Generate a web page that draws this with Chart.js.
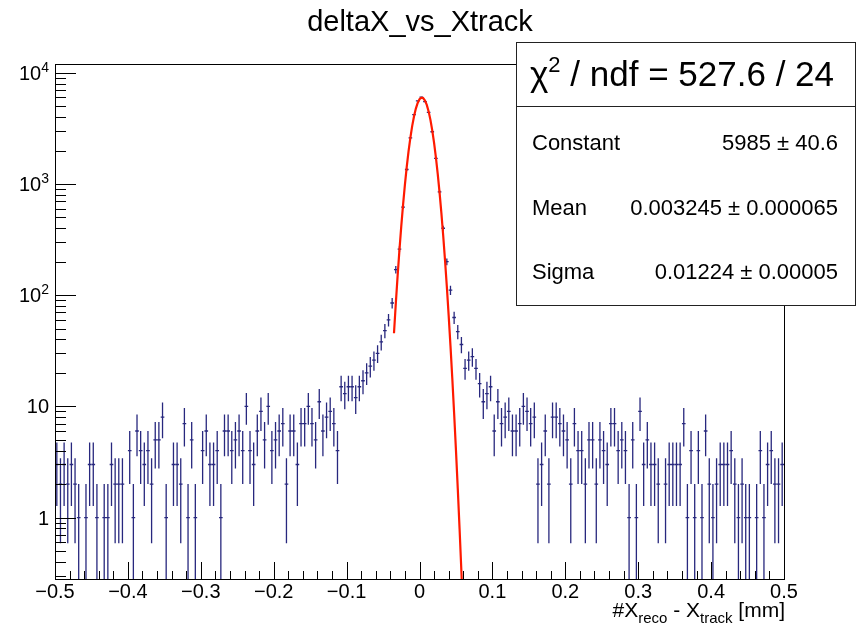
<!DOCTYPE html>
<html>
<head>
<meta charset="utf-8">
<script src="https://cdn.jsdelivr.net/npm/chart.js@4/dist/chart.umd.min.js"></script>
<style>
  html, body { margin: 0; padding: 0; background: #fff; }
  #wrap { width: 859px; height: 624px; }
</style>
</head>
<body>
<div id="wrap"><canvas id="c" width="859" height="624"></canvas></div>
<script>
// histogram binning: 200 bins from -0.5 to 0.5
const xMin = -0.5;
const xMax = 0.5;
const binWidth = 0.005;

// bin contents
const counts = [
    3, 2, 3, 2, 3, 2, 1, 0, 1, 3, 3, 1, 0, 1, 1, 3, 2, 2, 2, 0,
    4, 1, 6, 4, 3, 4, 2, 5, 5, 8, 1, 0, 3, 3, 2, 7, 1, 5, 1, 0,
    4, 6, 3, 3, 4, 1, 6, 6, 4, 5, 6, 4, 10, 4, 3, 6, 9, 5, 10, 4,
    5, 6, 7, 2, 6, 6, 3, 7, 7, 10, 7, 5, 11, 6, 8, 9, 7, 4, 15, 13,
    15, 15, 12, 15, 17, 20, 23, 26, 30, 38, 48, 60, 85, 170, 260, 620, 1350, 2600, 4200, 5600,
    6050, 5500, 4400, 2950, 1700, 850, 400, 200, 111, 63, 47, 36, 22, 26, 28, 22, 16, 11, 13, 15,
    6, 11, 7, 8, 9, 6, 6, 7, 10, 9, 7, 8, 2, 3, 6, 2, 8, 8, 7, 6,
    5, 2, 7, 4, 4, 2, 5, 5, 2, 5, 4, 3, 7, 7, 4, 5, 4, 1, 5, 1,
    9, 3, 5, 3, 3, 2, 0, 2, 3, 3, 3, 3, 7, 1, 4, 1, 4, 1, 6, 2,
    1, 2, 3, 3, 3, 4, 2, 1, 2, 1, 1, 0, 1, 4, 1, 3, 4, 2, 2, 3
];

// gaussian fit curve (red line)
const fitX = [-0.035, -0.0325, -0.03, -0.0275, -0.025, -0.0225, -0.02, -0.0175, -0.015, -0.0125,
    -0.01, -0.0075, -0.005, -0.0025, 0, 0.0025, 0.005, 0.0075, 0.01, 0.0125,
    0.015, 0.0175, 0.02, 0.0225, 0.025, 0.0275, 0.03, 0.0325, 0.035, 0.0375,
    0.04, 0.0425, 0.045, 0.0475, 0.05, 0.0525, 0.055, 0.0575, 0.06];
const fitY = [45.4, 84.1, 149.7, 255.3, 417.8, 655.2, 986.2, 1423, 1970, 2617,
    3332, 4071, 4770, 5361, 5778, 5974, 5924, 5634, 5139, 4497,
    3774, 3038, 2345, 1737, 1233, 840.2, 549.0, 344.0, 206.8, 119.2,
    65.9, 35.0, 17.8, 8.67, 4.06, 1.82, 0.784, 0.324, 0.128];

const xTicks = [-0.5, -0.4, -0.3, -0.2, -0.1, 0, 0.1, 0.2, 0.3, 0.4, 0.5];
const xTickLabels = ['\u22120.5', '\u22120.4', '\u22120.3', '\u22120.2', '\u22120.1', '0', '0.1', '0.2', '0.3', '0.4', '0.5'];
const yDecades = [1, 10, 100, 1000, 10000];
const yDecadeExp = ['', '', '2', '3', '4'];

const titleText = 'deltaX_vs_Xtrack';
const chi2Text = ' / ndf = 527.6 / 24';
const parNames = ['Constant', 'Mean', 'Sigma'];
const parValues = ['5985 \u00b1 40.6', '0.003245 \u00b1 0.000065', '0.01224 \u00b1 0.00005'];

const FONT = '"Liberation Sans", Arial, Helvetica, sans-serif';
const barColor = '#28287e';

const binCenters = counts.map((_, i) => xMin + (i + 0.5) * binWidth);
const histPoints = binCenters
    .map((x, i) => ({ x: x, y: counts[i] }))
    .filter(p => p.y > 0);
const fitPoints = fitX.map((x, i) => ({ x: x, y: fitY[i] }));

function font(size) { return size + 'px ' + FONT; }

function drawParts(ctx, parts, x, baseline) {
    parts.forEach(p => {
        ctx.font = font(p.size);
        ctx.fillText(p.t, x, baseline + (p.dy || 0));
        x += ctx.measureText(p.t).width;
    });
}

function partsWidth(ctx, parts) {
    let w = 0;
    parts.forEach(p => { ctx.font = font(p.size); w += ctx.measureText(p.t).width; });
    return w;
}

const rootStyle = {
    id: 'rootStyle',
    beforeDatasetsDraw(chart) {
        const ctx = chart.ctx, a = chart.chartArea;
        const xs = chart.scales.x, ys = chart.scales.y;
        ctx.save();
        ctx.beginPath();
        ctx.rect(a.left, a.top, a.right - a.left, a.bottom - a.top);
        ctx.clip();
        ctx.strokeStyle = barColor;
        ctx.lineWidth = 1.3;
        chart.data.datasets[0].data.forEach(p => {
            const err = Math.sqrt(p.y);
            const px = xs.getPixelForValue(p.x);
            const py = ys.getPixelForValue(p.y);
            const yHi = ys.getPixelForValue(p.y + err);
            const lo = p.y - err;
            const yLo = lo > 0 ? ys.getPixelForValue(lo) : a.bottom + 5;
            const x1 = xs.getPixelForValue(p.x - binWidth / 2);
            const x2 = xs.getPixelForValue(p.x + binWidth / 2);
            ctx.beginPath();
            ctx.moveTo(px, yHi);
            ctx.lineTo(px, yLo);
            ctx.moveTo(x1, py);
            ctx.lineTo(x2, py);
            ctx.stroke();
        });
        ctx.restore();
    },
    afterDraw(chart) {
        const ctx = chart.ctx, a = chart.chartArea;
        const xs = chart.scales.x, ys = chart.scales.y;
        ctx.save();
        ctx.strokeStyle = '#000';
        ctx.fillStyle = '#000';
        ctx.lineWidth = 1;

        // frame
        ctx.strokeRect(a.left + 0.5, a.top + 0.5, a.right - a.left, a.bottom - a.top);

        // x ticks, inward
        ctx.beginPath();
        for (let i = 0; i <= 50; i++) {
            const v = xMin + i * 0.02;
            const px = Math.round(xs.getPixelForValue(v)) + 0.5;
            const len = (i % 5 === 0) ? 17 : 8;
            ctx.moveTo(px, a.bottom);
            ctx.lineTo(px, a.bottom - len);
        }
        // y ticks, log scale
        for (let e = -1; e <= 4; e++) {
            for (let k = 1; k <= 9; k++) {
                const v = k * Math.pow(10, e);
                if (v < ys.min || v > ys.max) continue;
                const py = Math.round(ys.getPixelForValue(v)) + 0.5;
                const len = (k === 1) ? 21 : 11;
                ctx.moveTo(a.left, py);
                ctx.lineTo(a.left + len, py);
            }
        }
        ctx.stroke();

        // x tick labels
        ctx.font = font(20);
        ctx.textAlign = 'center';
        ctx.textBaseline = 'alphabetic';
        xTicks.forEach((v, i) => {
            ctx.fillText(xTickLabels[i], xs.getPixelForValue(v), 598);
        });

        // y tick labels
        ctx.textAlign = 'left';
        yDecades.forEach((v, i) => {
            const py = ys.getPixelForValue(v);
            const parts = [{ t: String(v < 100 ? v : 10), size: 20 }];
            if (yDecadeExp[i]) parts.push({ t: yDecadeExp[i], size: 14, dy: -8 });
            const w = partsWidth(ctx, parts);
            drawParts(ctx, parts, 49 - w, py + 7);
        });

        // title
        ctx.font = font(29);
        ctx.textAlign = 'center';
        ctx.fillText(titleText, 420, 31);

        // x axis title
        ctx.textAlign = 'left';
        const xt = [
            { t: '#X', size: 21 },
            { t: 'reco', size: 15, dy: 6 },
            { t: ' - X', size: 21 },
            { t: 'track', size: 15, dy: 6 },
            { t: ' [mm]', size: 21 }
        ];
        drawParts(ctx, xt, 785 - partsWidth(ctx, xt), 617);

        // fit statistics box
        ctx.fillStyle = '#fff';
        ctx.fillRect(516, 42, 339, 263);
        ctx.strokeStyle = '#222';
        ctx.strokeRect(516.5, 42.5, 339, 263);
        ctx.beginPath();
        ctx.moveTo(516, 106.5);
        ctx.lineTo(855, 106.5);
        ctx.stroke();
        ctx.fillStyle = '#000';
        drawParts(ctx, [
            { t: '\u03c7', size: 35 },
            { t: '2', size: 22, dy: -14 },
            { t: chi2Text, size: 35 }
        ], 530, 86);
        parNames.forEach((n, i) => {
            const base = 150 + i * 64.5;
            ctx.font = font(22);
            ctx.textAlign = 'left';
            ctx.fillText(n, 532, base);
            ctx.textAlign = 'right';
            ctx.fillText(parValues[i], 838, base);
        });
        ctx.restore();
    }
};

new Chart(document.getElementById('c'), {
    type: 'scatter',
    data: {
        datasets: [{
            label: 'deltaX_vs_Xtrack',
            data: histPoints,
            pointRadius: 0,
            showLine: false
        }, {
            label: 'gaus',
            data: fitPoints,
            showLine: true,
            borderColor: '#ff1a00',
            borderWidth: 2.2,
            pointRadius: 0,
            tension: 0
        }]
    },
    options: {
        responsive: false,
        animation: false,
        events: [],
        layout: { padding: { left: 55, right: 75, top: 64, bottom: 45 } },
        scales: {
            x: { type: 'linear', min: xMin, max: xMax, display: false },
            y: { type: 'logarithmic', min: 0.28, max: 12000, display: false }
        },
        plugins: {
            legend: { display: false },
            tooltip: { enabled: false }
        }
    },
    plugins: [rootStyle]
});
</script>
</body>
</html>
